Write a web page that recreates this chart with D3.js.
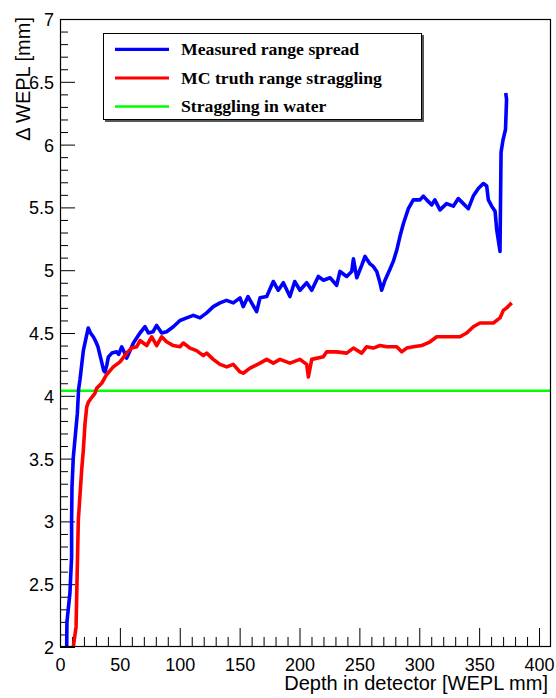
<!DOCTYPE html>
<html>
<head>
<meta charset="utf-8">
<script src="https://cdn.jsdelivr.net/npm/d3@7"></script>
<style>
  html, body { margin: 0; padding: 0; background: #fff; }
  svg { display: block; }
</style>
</head>
<body>
<svg id="chart" width="556" height="698"></svg>
<script>
// ---------------- data ----------------
const measuredDepth = [5.0, 5.6, 5.8, 8.3, 9.7, 9.7, 10.0, 11.1, 14.5, 15.5, 16.7, 19.5, 21.5, 23.6, 25.5, 27.8, 29.5, 31.7, 34.0, 36.5, 37.6, 39.0, 40.4, 43.3, 47.3, 49.0, 51.5, 54.0, 55.7, 58.5, 61.3, 64.0, 66.8, 71.0, 73.8, 77.7, 80.7, 84.9, 89.0, 94.6, 100.2, 105.8, 111.3, 116.9, 122.5, 128.0, 133.6, 139.0, 144.7, 150.3, 153.0, 157.0, 164.2, 167.0, 172.6, 178.1, 182.3, 186.5, 192.0, 196.0, 200.4, 206.0, 210.2, 215.7, 220.0, 225.5, 231.0, 233.8, 239.4, 243.6, 245.0, 247.8, 252.0, 254.7, 258.9, 261.6, 264.5, 267.2, 268.6, 271.4, 275.6, 278.3, 281.2, 283.9, 286.7, 290.9, 295.0, 300.6, 303.4, 306.2, 310.4, 313.0, 317.3, 322.8, 328.4, 332.6, 336.8, 341.0, 345.1, 349.3, 353.5, 356.3, 357.7, 360.5, 363.3, 364.7, 366.0, 367.4, 368.3, 370.0, 372.0, 372.9, 372.2];
const measuredSpread = [1.9, 2.0, 2.2, 2.43, 2.72, 3.0, 3.27, 3.51, 3.86, 4.05, 4.13, 4.36, 4.45, 4.54, 4.5, 4.47, 4.44, 4.39, 4.30, 4.20, 4.19, 4.24, 4.31, 4.34, 4.35, 4.33, 4.39, 4.34, 4.30, 4.36, 4.42, 4.46, 4.5, 4.55, 4.5, 4.51, 4.56, 4.5, 4.51, 4.55, 4.6, 4.62, 4.64, 4.62, 4.66, 4.71, 4.74, 4.76, 4.74, 4.78, 4.71, 4.79, 4.67, 4.78, 4.79, 4.91, 4.84, 4.90, 4.79, 4.91, 4.84, 4.90, 4.84, 4.95, 4.92, 4.94, 4.88, 4.99, 4.95, 4.99, 5.09, 4.94, 5.04, 5.11, 5.05, 5.03, 4.99, 4.90, 4.84, 4.92, 5.01, 5.07, 5.16, 5.27, 5.37, 5.49, 5.56, 5.56, 5.59, 5.56, 5.52, 5.56, 5.48, 5.53, 5.51, 5.57, 5.53, 5.49, 5.59, 5.65, 5.69, 5.67, 5.56, 5.51, 5.47, 5.32, 5.24, 5.15, 5.94, 6.04, 6.12, 6.36, 6.41];

const mcDepth = [10.5, 11.1, 13.4, 14.0, 15.3, 18.1, 19.5, 20.9, 22.3, 23.7, 26.0, 29.2, 30.6, 34.8, 39.0, 44.5, 50.1, 55.7, 59.9, 64.0, 66.8, 72.4, 76.6, 80.7, 84.9, 89.0, 94.6, 100.2, 103.0, 108.6, 114.0, 119.7, 122.5, 128.0, 133.6, 139.2, 144.7, 150.3, 153.0, 158.7, 167.0, 172.6, 178.1, 183.7, 192.0, 200.4, 206.0, 207.4, 210.2, 219.9, 222.7, 231.0, 239.4, 245.0, 251.9, 256.0, 261.6, 267.2, 272.8, 281.2, 285.3, 289.5, 295.0, 302.0, 309.0, 314.6, 317.3, 325.6, 334.0, 339.6, 345.1, 350.7, 356.3, 361.9, 367.4, 370.2, 373.0, 377.2];
const mcStraggling = [1.9, 2.0, 2.16, 2.43, 3.01, 3.41, 3.57, 3.78, 3.91, 3.95, 3.98, 4.02, 4.06, 4.10, 4.17, 4.23, 4.27, 4.34, 4.38, 4.39, 4.44, 4.40, 4.47, 4.40, 4.47, 4.43, 4.40, 4.39, 4.42, 4.38, 4.36, 4.32, 4.34, 4.29, 4.25, 4.23, 4.25, 4.19, 4.18, 4.22, 4.26, 4.29, 4.26, 4.29, 4.26, 4.29, 4.25, 4.15, 4.29, 4.31, 4.35, 4.35, 4.34, 4.38, 4.34, 4.39, 4.38, 4.40, 4.39, 4.39, 4.35, 4.38, 4.39, 4.40, 4.43, 4.47, 4.47, 4.47, 4.47, 4.50, 4.55, 4.58, 4.58, 4.58, 4.62, 4.68, 4.70, 4.74];

const waterStraggling = 4.04;

const xMajorTicks = [0, 50, 100, 150, 200, 250, 300, 350, 400];
const yMajorTicks = [2, 2.5, 3, 3.5, 4, 4.5, 5, 5.5, 6, 6.5, 7];
const yTickLabels = ["2", "2.5", "3", "3.5", "4", "4.5", "5", "5.5", "6", "6.5", "7"];

const legendLabels = ["Measured range spread", "MC truth range straggling", "Straggling in water"];
const seriesColors = ["#0000ff", "#ff0000", "#00ff00"];

// ---------------- layout ----------------
const svg = d3.select("#chart");
const padL = 60, padR = 551, padT = 19, padB = 647;
const x = d3.scaleLinear().domain([0, 410]).range([padL, padR]);
const y = d3.scaleLinear().domain([2, 7]).range([padB, padT]);

const xMinor = d3.range(10, 410, 10).filter(v => v % 50 !== 0);
const yMinor = d3.range(21, 70, 1).map(v => v / 10).filter(v => Math.round(v * 10) % 5 !== 0);

const sans = "'Liberation Sans', Arial, Helvetica, sans-serif";
const serif = "'Liberation Serif', 'Times New Roman', serif";

// clip
svg.append("defs").append("clipPath").attr("id", "plotclip")
  .append("rect").attr("x", padL).attr("y", padT).attr("width", padR - padL).attr("height", padB - padT);

// x axis: major + minor ticks pointing up
const gx = svg.append("g").attr("transform", `translate(0,${padB})`);
gx.call(d3.axisBottom(x).tickValues(xMajorTicks).tickSize(-19).tickFormat(d3.format("d")));
gx.select(".domain").remove();
gx.selectAll("text").attr("y", 24).attr("dy", null)
  .attr("font-family", sans).attr("font-size", 18).attr("fill", "#000");
gx.selectAll("line").attr("stroke", "#000");
const gxm = svg.append("g").attr("transform", `translate(0,${padB})`);
gxm.call(d3.axisBottom(x).tickValues(xMinor).tickSize(-10).tickFormat(""));
gxm.select(".domain").remove();
gxm.selectAll("line").attr("stroke", "#000");

// y axis
const gy = svg.append("g").attr("transform", `translate(${padL},0)`);
gy.call(d3.axisLeft(y).tickValues(yMajorTicks).tickSize(-15).tickFormat((d, i) => yTickLabels[i]));
gy.select(".domain").remove();
gy.selectAll("text").attr("x", -6).attr("dy", "0.36em")
  .attr("font-family", sans).attr("font-size", 18).attr("fill", "#000");
gy.selectAll("line").attr("stroke", "#000");
const gym = svg.append("g").attr("transform", `translate(${padL},0)`);
gym.call(d3.axisLeft(y).tickValues(yMinor).tickSize(-8).tickFormat(""));
gym.select(".domain").remove();
gym.selectAll("line").attr("stroke", "#000");

// data lines
const plot = svg.append("g").attr("clip-path", "url(#plotclip)");
const line = d3.line().x(d => x(d[0])).y(d => y(d[1]));

plot.append("path")
  .datum([[0, waterStraggling], [410, waterStraggling]])
  .attr("d", line).attr("fill", "none").attr("stroke", seriesColors[2]).attr("stroke-width", 2.5);

plot.append("path")
  .datum(d3.zip(measuredDepth, measuredSpread))
  .attr("d", line).attr("fill", "none").attr("stroke", seriesColors[0])
  .attr("stroke-width", 3.6).attr("stroke-linejoin", "round");

plot.append("path")
  .datum(d3.zip(mcDepth, mcStraggling))
  .attr("d", line).attr("fill", "none").attr("stroke", seriesColors[1])
  .attr("stroke-width", 3.6).attr("stroke-linejoin", "round");

// frame
svg.append("rect").attr("x", padL + 0.5).attr("y", padT + 0.5)
  .attr("width", padR - padL - 1).attr("height", padB - padT - 1)
  .attr("fill", "none").attr("stroke", "#000").attr("stroke-width", 1.2);

// axis titles
svg.append("text").attr("x", 548).attr("y", 690)
  .attr("text-anchor", "end").attr("font-family", sans).attr("font-size", 20)
  .attr("fill", "#000").text("Depth in detector [WEPL mm]");
svg.append("text").attr("transform", "translate(30,17) rotate(-90)")
  .attr("text-anchor", "end").attr("font-family", sans).attr("font-size", 20)
  .attr("fill", "#000").text("\u0394 WEPL [mm]");

// legend
const lg = svg.append("g");
lg.append("rect").attr("x", 105).attr("y", 35).attr("width", 319).attr("height", 87)
  .attr("fill", "#555");
lg.append("rect").attr("x", 103.5).attr("y", 33.5).attr("width", 318).attr("height", 86)
  .attr("fill", "#fff").attr("stroke", "#000").attr("stroke-width", 1);
const rowY = [49.3, 78, 106.5];
legendLabels.forEach((lab, i) => {
  lg.append("line").attr("x1", 115).attr("x2", 169).attr("y1", rowY[i]).attr("y2", rowY[i])
    .attr("stroke", seriesColors[i]).attr("stroke-width", i === 2 ? 2.5 : 3.2);
  lg.append("text").attr("x", 181).attr("y", rowY[i] + 5.5)
    .attr("font-family", serif).attr("font-weight", "bold").attr("font-size", 17.7)
    .attr("fill", "#000").text(lab);
});
</script>
</body>
</html>
